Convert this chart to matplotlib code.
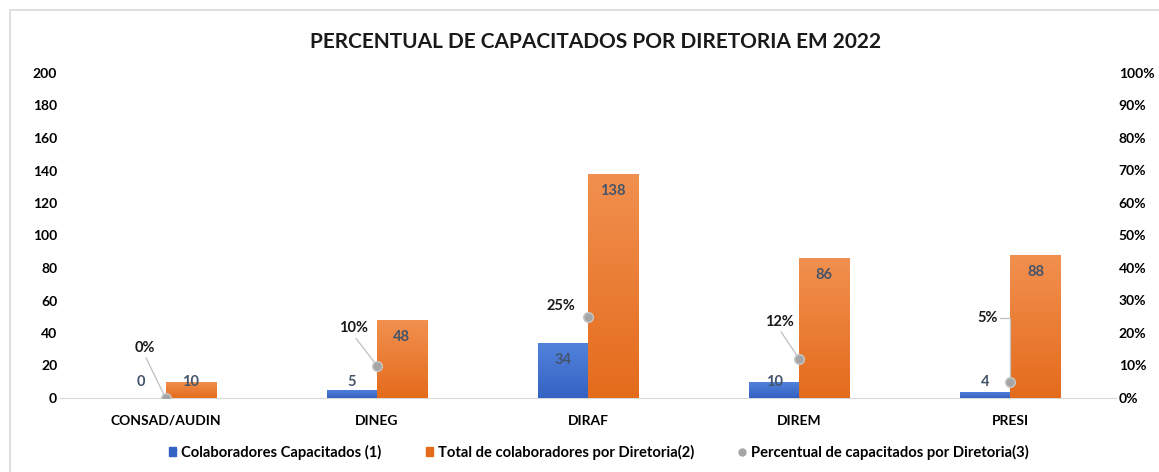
import numpy as np
import matplotlib
matplotlib.use("Agg")
from matplotlib import pyplot as plt
from matplotlib.patches import Rectangle
from matplotlib.ticker import PercentFormatter

# data
categories = ["CONSAD/AUDIN", "DINEG", "DIRAF", "DIREM", "PRESI"]
capacitados = [0, 5, 34, 10, 4]
total_colab = [10, 48, 138, 86, 88]
percentual = [0.00, 0.10, 0.25, 0.12, 0.05]

series_names = ["Colaboradores Capacitados (1)",
                "Total de colaboradores por Diretoria(2)",
                "Percentual de capacitados por Diretoria(3)"]
title = "PERCENTUAL DE CAPACITADOS POR DIRETORIA EM 2022"

plt.rcParams['font.family'] = ['Lato', 'DejaVu Sans']
plt.rcParams['font.weight'] = 'bold'

BLUE_TOP, BLUE_BOT = "#5283dc", "#3462c2"
ORANGE_TOP, ORANGE_BOT = "#f1904f", "#e46b1c"
LABEL_COL = "#44546a"


def gradient_bars(ax, bars, top, bottom):
    """Paint each bar with a vertical gradient (Excel style)."""
    cmap = matplotlib.colors.LinearSegmentedColormap.from_list("g", [bottom, top])
    grad = np.linspace(0, 1, 256).reshape(-1, 1)
    for b in bars:
        x0, y0 = b.get_x(), b.get_y()
        w, h = b.get_width(), b.get_height()
        if h <= 0:
            continue
        b.set_facecolor("none")
        b.set_edgecolor("none")
        im = ax.imshow(grad, extent=[x0, x0 + w, y0, y0 + h], origin="lower",
                       cmap=cmap, aspect="auto", zorder=b.get_zorder())
        im.set_clip_path(b)


fig = plt.figure(figsize=(11.59, 4.72), dpi=100)
# light frame around the chart
fig.patches.append(Rectangle((10 / 1159, -0.05), 1.1, (472 - 10) / 472 + 0.05,
                             transform=fig.transFigure, fill=False,
                             edgecolor="#d9d9d9", linewidth=1.2))

ax = fig.add_axes([60 / 1159, 74 / 472, 1056 / 1159, 325 / 472])
ax2 = ax.twinx()

x = np.arange(len(categories))
w = 0.237
b1 = ax.bar(x - w / 2, capacitados, w, color=BLUE_BOT, zorder=2)
b2 = ax.bar(x + w / 2, total_colab, w, color=ORANGE_BOT, zorder=2)
ax.set_xlim(-0.5, len(categories) - 0.5)
ax.set_ylim(0, 200)
gradient_bars(ax, b1, BLUE_TOP, BLUE_BOT)
gradient_bars(ax, b2, ORANGE_TOP, ORANGE_BOT)

# bar value labels, inside end but never below the baseline area
for xs, vals in ((x - w / 2, capacitados), (x + w / 2, total_colab)):
    for xi, v in zip(xs, vals):
        ax.text(xi, max(v - 10.5, 10), str(v), ha="center", va="center",
                fontsize=10.5, color=LABEL_COL, zorder=5)

ax.set_yticks(np.arange(0, 201, 20))
ax.set_xticks(x)
ax.set_xticklabels(categories)
ax.tick_params(axis="y", length=0, pad=2, labelsize=10)
ax.tick_params(axis="x", length=0, pad=12, labelsize=10)
for s in ["top", "right", "left"]:
    ax.spines[s].set_visible(False)
ax.spines["bottom"].set_color("#d9d9d9")
ax.spines["bottom"].set_zorder(1)

# percentage series on the secondary axis: markers only
ax2.set_ylim(0, 1)
ax2.set_yticks(np.arange(0, 1.01, 0.1))
ax2.yaxis.set_major_formatter(PercentFormatter(1.0, decimals=0))
ax2.tick_params(axis="y", length=0, pad=2, labelsize=10)
for s in ax2.spines.values():
    s.set_visible(False)
ax2.plot(x, percentual, linestyle="none", marker="o", markersize=7,
         markerfacecolor="#a5a5a5", markeredgecolor="#c8c8c8",
         markeredgewidth=1, zorder=6)

# label offsets in pixels (label position relative to marker)
label_offsets = [(-21, 50), (-23, 37), (-27, 11), (-20, 37), (-23, 64)]
for i, (xi, p, (dx, dy)) in enumerate(zip(x, percentual, label_offsets)):
    if i == 2:
        arrow = None  # label sits right next to the marker, no leader line
    elif i == 4:
        arrow = dict(arrowstyle="-", color="#bfbfbf", lw=0.9, shrinkA=0,
                     shrinkB=3, relpos=(1.0, 0.5),
                     connectionstyle="angle,angleA=0,angleB=90,rad=0")
    else:
        arrow = dict(arrowstyle="-", color="#bfbfbf", lw=0.9, shrinkA=0,
                     shrinkB=3, relpos=(0.5, 0.0))
    ax2.annotate(f"{p:.0%}", xy=(xi, p), xytext=(dx * 0.72, dy * 0.72),
                 textcoords="offset points", ha="center", va="center",
                 fontsize=10.5, color="#1a1a1a", arrowprops=arrow, zorder=7)

fig.text(596 / 1159, 1 - 42 / 472, title, ha="center", va="center",
         fontsize=15, color="#1a1a1a")

handles = [Rectangle((0, 0), 1, 1, color=BLUE_BOT),
           Rectangle((0, 0), 1, 1, color=ORANGE_BOT),
           plt.Line2D([], [], linestyle="none", marker="o", markersize=5,
                      color="#a5a5a5")]
fig.legend(handles, series_names, loc="center", ncol=3,
           bbox_to_anchor=(599 / 1159, 1 - 452 / 472), frameon=False,
           fontsize=10.6, handlelength=0.5, handleheight=0.5,
           handletextpad=0.35, columnspacing=3.0)

fig.savefig("out.png", dpi=100)
